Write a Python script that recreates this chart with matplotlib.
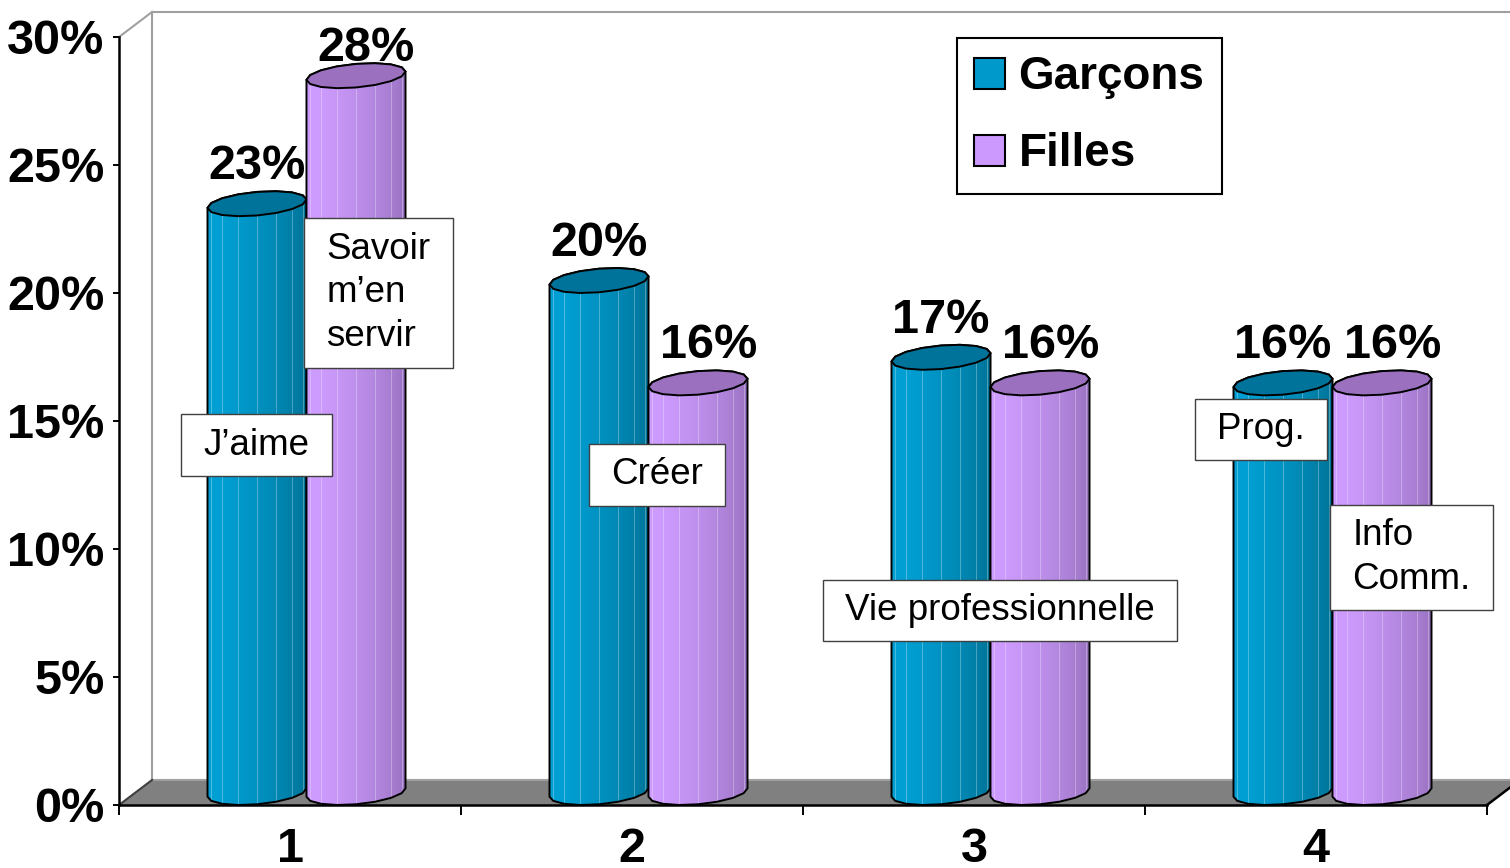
import numpy as np
import matplotlib.pyplot as plt
from matplotlib.patches import Polygon, Patch
from matplotlib.path import Path

categories = ['1', '2', '3', '4']
series_names = ['Garçons', 'Filles']
garcons = [23, 20, 17, 16]
filles = [28, 16, 16, 16]
y_ticks = [0, 5, 10, 15, 20, 25, 30]
notes = ['J’aime', 'Savoir\nm’en\nservir', 'Créer', 'Vie professionnelle', 'Prog.', 'Info\nComm.']

# where the note boxes sit (category units, percent)
note_xy = [(0.902, 14.06), (1.259, 20.0), (2.073, 12.9), (3.076, 7.6), (3.84, 14.67), (4.279, 9.67)]

FONT = 'Liberation Sans'
DX, DY = 0.0965, 0.977      # 3d depth offset in data units
OFF, R = 0.1447, 0.1365     # bar offset from category centre, circle radius
N_FACETS = 16

blue = dict(light=np.array([0, 160, 212]) / 255, dark=np.array([0, 108, 142]) / 255, top='#00739a', legend='#0099cc')
lilac = dict(light=np.array([206, 156, 255]) / 255, dark=np.array([148, 110, 186]) / 255, top='#9a70bf', legend='#cc99ff')


def note_box(x0, y0, width, height, mutation_size):
    px, py = 0.6 * mutation_size, 0.36 * mutation_size
    verts = [(x0 - px, y0 - py), (x0 + width + px, y0 - py), (x0 + width + px, y0 + height + py),
             (x0 - px, y0 + height + py), (x0 - px, y0 - py)]
    return Path(verts, closed=True)


def cylinder(ax, xc, val, style, z):
    a, b = DX / 2, DY / 2
    t0 = np.arctan2(a, R)
    rr = np.hypot(R, a)

    def pts(t, base):
        return xc + a + R * np.cos(t) + a * np.sin(t), base + b + b * np.sin(t)

    tv = t0 + np.pi + np.arange(N_FACETS + 1) * 2 * np.pi / N_FACETS
    # body outline: back half of top ring, front half of bottom ring
    t_back = tv[N_FACETS // 2:] - 2 * np.pi
    xt, yt = pts(t_back, val)
    xb, yb = pts(tv[:N_FACETS // 2 + 1], 0)
    body = np.column_stack([np.r_[xt, xb], np.r_[yt, yb]])
    outline = Polygon(body, closed=True, facecolor='none', edgecolor='black', lw=1.4, zorder=z + 0.2, clip_on=False)
    ax.add_patch(outline)

    # shading across the visible front
    xs = np.linspace(xc + a - rr, xc + a + rr, 300)
    u = np.clip((xs - xc - a) / rr, -1, 1)
    t = t0 + 2 * np.pi - np.arccos(u)
    tl = t0 + np.pi + 0.45
    s = (1 - np.cos(t - tl)) / 2
    rgb = style['light'][None, :] * (1 - s[:, None]) + style['dark'][None, :] * s[:, None]
    im = ax.imshow(rgb[None, :, :], extent=[xs[0], xs[-1], 0, val + DY], aspect='auto',
                   interpolation='bilinear', zorder=z)
    im.set_clip_path(outline)

    # faint facet edges
    for tk in tv[1:N_FACETS // 2]:
        x0, y0 = pts(tk, 0)
        x1, y1 = pts(tk, val)
        ax.plot([x0, x1], [y0, y1], color='white', alpha=0.3, lw=0.7, zorder=z + 0.1)

    xr, yr = pts(tv[:-1], val)
    ax.add_patch(Polygon(np.column_stack([xr, yr]), closed=True, facecolor=style['top'],
                         edgecolor='black', lw=1.4, zorder=z + 0.3, clip_on=False))


fig = plt.figure(figsize=(15.1, 8.68), dpi=100)
ax = fig.add_axes([119 / 1510, 63 / 868, 1368 / 1510, 768 / 868])
ax.set_facecolor('none')

# walls and floor
x_lo, x_hi = 0.5, len(categories) + 0.5
ax.add_patch(Polygon([(x_lo, 0), (x_hi, 0), (x_hi + DX, DY), (x_lo + DX, DY)], closed=True,
                     facecolor='#808080', edgecolor='none', zorder=1, clip_on=False))
ax.plot([x_lo + DX, x_hi + DX], [DY, DY], color='#a0a0a0', lw=1.5, zorder=1.1, clip_on=False)
ax.plot([x_lo, x_lo + DX], [0, DY], color='#404040', lw=1.5, zorder=1.1, clip_on=False)
ax.plot([x_hi, x_hi + DX], [0, DY], color='black', lw=1.8, zorder=1.1, clip_on=False)
ax.plot([x_lo + DX, x_lo + DX, x_hi + DX], [DY, 30 + DY, 30 + DY], color='#a0a0a0', lw=1.5, zorder=1, clip_on=False)
ax.plot([x_lo, x_lo + DX], [30, 30 + DY], color='#a0a0a0', lw=1.5, zorder=1, clip_on=False)

z = 2
for i in range(len(categories)):
    cylinder(ax, i + 1 - OFF, garcons[i], blue, z)
    cylinder(ax, i + 1 + OFF, filles[i], lilac, z + 1)
    z += 2

# value labels, kept inside the plot area like the original
for i in range(len(categories)):
    for xc, v, nudge in [(i + 1 - OFF, garcons[i], 0.0), (i + 1 + OFF, filles[i], 0.03)]:
        ax.text(xc + DX / 2 + nudge, min(v + 1.45, 29.05), f'{v}%', ha='center', va='baseline',
                fontsize=35, fontweight='bold', family=FONT, zorder=30)

for txt, (x, y) in zip(notes, note_xy):
    ax.text(x, y, txt, ha='center', va='center', multialignment='left', fontsize=26.5, family=FONT,
            linespacing=1.33, zorder=25,
            bbox=dict(boxstyle=note_box, facecolor='white', edgecolor='#404040', lw=1.0))

ax.set_xlim(x_lo, x_hi)
ax.set_ylim(0, 30)
ax.set_yticks(y_ticks)
ax.set_yticklabels([f'{v}%' for v in y_ticks], fontsize=35, fontweight='bold', family=FONT)
ax.set_xticks(range(1, len(categories) + 1))
ax.set_xticklabels(categories, fontsize=35, fontweight='bold', family=FONT)
ax.set_xticks(np.arange(x_lo, x_hi + 0.01, 1), minor=True)
ax.tick_params(axis='y', length=4.5, width=1.4, pad=6)
ax.tick_params(axis='x', which='major', length=0, pad=16)
ax.tick_params(axis='x', which='minor', length=7, width=1.4)
for side in ['top', 'right']:
    ax.spines[side].set_visible(False)
for side in ['left', 'bottom']:
    ax.spines[side].set_linewidth(1.8)
    ax.spines[side].set_zorder(1.5)

handles = [Patch(facecolor=blue['legend'], edgecolor='black', lw=1.5),
           Patch(facecolor=lilac['legend'], edgecolor='black', lw=1.5)]
leg = fig.legend(handles, series_names, loc='upper left', bbox_to_anchor=(957 / 1510, 1 - 38 / 868),
                 fancybox=False, edgecolor='black', framealpha=1,
                 prop=dict(family=FONT, weight='bold', size=33),
                 handlelength=0.66, handleheight=0.66, handletextpad=0.3,
                 labelspacing=0.72, borderpad=0.38, borderaxespad=0)
leg.get_frame().set_linewidth(1.5)

fig.savefig('out.png', dpi=100)
